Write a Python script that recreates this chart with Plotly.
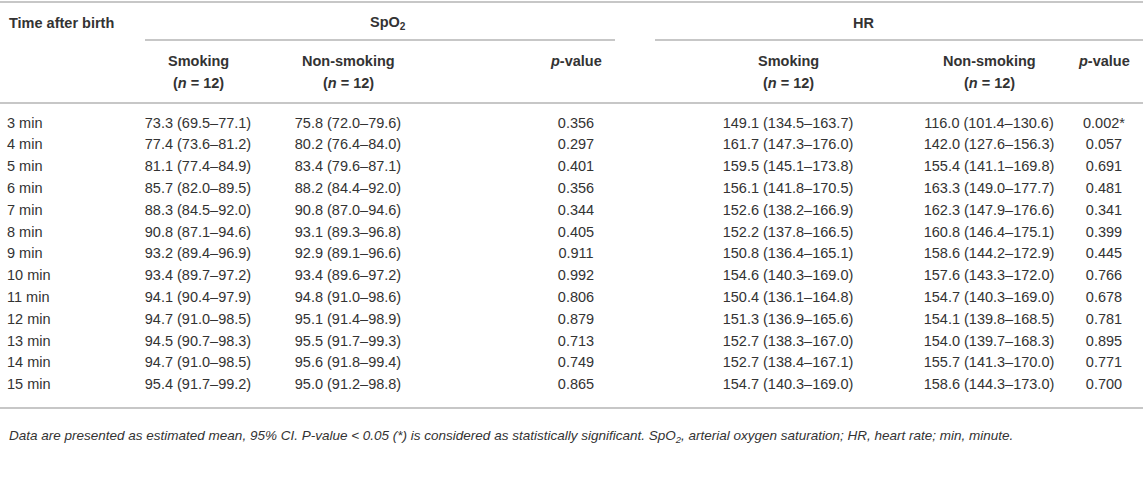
import plotly.graph_objects as go

# tabla: SpO2 y HR despues del nacimiento
tiempos = ["3 min", "4 min", "5 min", "6 min", "7 min", "8 min", "9 min",
           "10 min", "11 min", "12 min", "13 min", "14 min", "15 min"]

spo2_fum = [73.3, 77.4, 81.1, 85.7, 88.3, 90.8, 93.2, 93.4, 94.1, 94.7, 94.5, 94.7, 95.4]
spo2_fum_lo = [69.5, 73.6, 77.4, 82.0, 84.5, 87.1, 89.4, 89.7, 90.4, 91.0, 90.7, 91.0, 91.7]
spo2_fum_hi = [77.1, 81.2, 84.9, 89.5, 92.0, 94.6, 96.9, 97.2, 97.9, 98.5, 98.3, 98.5, 99.2]

spo2_nofum = [75.8, 80.2, 83.4, 88.2, 90.8, 93.1, 92.9, 93.4, 94.8, 95.1, 95.5, 95.6, 95.0]
spo2_nofum_lo = [72.0, 76.4, 79.6, 84.4, 87.0, 89.3, 89.1, 89.6, 91.0, 91.4, 91.7, 91.8, 91.2]
spo2_nofum_hi = [79.6, 84.0, 87.1, 92.0, 94.6, 96.8, 96.6, 97.2, 98.6, 98.9, 99.3, 99.4, 98.8]

spo2_p = [0.356, 0.297, 0.401, 0.356, 0.344, 0.405, 0.911, 0.992, 0.806, 0.879, 0.713, 0.749, 0.865]

hr_fum = [149.1, 161.7, 159.5, 156.1, 152.6, 152.2, 150.8, 154.6, 150.4, 151.3, 152.7, 152.7, 154.7]
hr_fum_lo = [134.5, 147.3, 145.1, 141.8, 138.2, 137.8, 136.4, 140.3, 136.1, 136.9, 138.3, 138.4, 140.3]
hr_fum_hi = [163.7, 176.0, 173.8, 170.5, 166.9, 166.5, 165.1, 169.0, 164.8, 165.6, 167.0, 167.1, 169.0]

hr_nofum = [116.0, 142.0, 155.4, 163.3, 162.3, 160.8, 158.6, 157.6, 154.7, 154.1, 154.0, 155.7, 158.6]
hr_nofum_lo = [101.4, 127.6, 141.1, 149.0, 147.9, 146.4, 144.2, 143.3, 140.3, 139.8, 139.7, 141.3, 144.3]
hr_nofum_hi = [130.6, 156.3, 169.8, 177.7, 176.6, 175.1, 172.9, 172.0, 169.0, 168.5, 168.3, 170.0, 173.0]

hr_p = [0.002, 0.057, 0.691, 0.481, 0.341, 0.399, 0.445, 0.766, 0.678, 0.781, 0.895, 0.771, 0.700]

grupos = ["Smoking", "Non-smoking", "<i>p</i>-value"]
n_grupo = [12, 12, None]

nota = ("Data are presented as estimated mean, 95% CI. P-value &lt; 0.05 (*) is considered as "
        "statistically significant. SpO<sub>2</sub>, arterial oxygen saturation; HR, heart rate; "
        "min, minute.")

W, H = 1143, 495
FUENTE = "Liberation Sans, Arial, sans-serif"
COLOR = "#333333"
GRIS = "#b4b4b4"
TAM = 14.5

cols_x = [198, 348, 576, 788, 989, 1104]
fila0, paso = 124, 21.8
filas_y = [fila0 + i * paso for i in range(len(tiempos))]


def ic(m, lo, hi):
    return [f"{a:.1f} ({b:.1f}–{c:.1f})" for a, b, c in zip(m, lo, hi)]


def pval(ps):
    return [f"{p:.3f}*" if p < 0.05 else f"{p:.3f}" for p in ps]


columnas = [ic(spo2_fum, spo2_fum_lo, spo2_fum_hi),
            ic(spo2_nofum, spo2_nofum_lo, spo2_nofum_hi),
            pval(spo2_p),
            ic(hr_fum, hr_fum_lo, hr_fum_hi),
            ic(hr_nofum, hr_nofum_lo, hr_nofum_hi),
            pval(hr_p)]

fig = go.Figure()

# primera columna (alineada a la izquierda)
fig.add_trace(go.Scatter(x=[7] * len(tiempos), y=filas_y, mode="text", text=tiempos,
                         textposition="middle right",
                         textfont=dict(family=FUENTE, size=TAM, color=COLOR),
                         hoverinfo="skip", showlegend=False))

for cx, vals in zip(cols_x, columnas):
    fig.add_trace(go.Scatter(x=[cx] * len(vals), y=filas_y, mode="text", text=vals,
                             textposition="middle center",
                             textfont=dict(family=FUENTE, size=TAM, color=COLOR),
                             hoverinfo="skip", showlegend=False))

anots = []
anots.append(dict(x=7, y=23, text="<b>Time after birth</b>", xanchor="left"))
anots.append(dict(x=388, y=23, text="<b>SpO<sub>2</sub></b>", xanchor="center"))
anots.append(dict(x=863, y=23, text="<b>HR</b>", xanchor="center"))
for cx, g, n in zip(cols_x, grupos * 2, n_grupo * 2):
    anots.append(dict(x=cx, y=61, text=f"<b>{g}</b>", xanchor="center"))
    if n is not None:
        anots.append(dict(x=cx, y=83, text=f"<b>(<i>n</i> = {n})</b>", xanchor="center"))

for a in anots:
    a.update(xref="x", yref="y", yanchor="middle", showarrow=False,
             font=dict(family=FUENTE, size=TAM, color=COLOR))

anots.append(dict(x=7, y=436, text="<i>" + nota + "</i>", xanchor="left",
                  xref="x", yref="y", yanchor="middle", showarrow=False,
                  font=dict(family=FUENTE, size=13.5, color=COLOR)))

# lineas horizontales
lineas = [(0, W, 2), (145, 615, 40), (655, W, 40), (0, W, 103), (0, W, 408)]
shapes = [dict(type="line", xref="x", yref="y", x0=a, x1=b, y0=y, y1=y,
               line=dict(color=GRIS, width=1.5)) for a, b, y in lineas]

fig.update_layout(
    width=W, height=H,
    margin=dict(l=0, r=0, t=0, b=0),
    paper_bgcolor="white", plot_bgcolor="white",
    xaxis=dict(range=[0, W], visible=False, fixedrange=True),
    yaxis=dict(range=[H, 0], visible=False, fixedrange=True),
    annotations=anots, shapes=shapes,
)

fig.write_html("out.html", config={"displayModeBar": False},
               post_script="document.body.style.margin='0px';")
